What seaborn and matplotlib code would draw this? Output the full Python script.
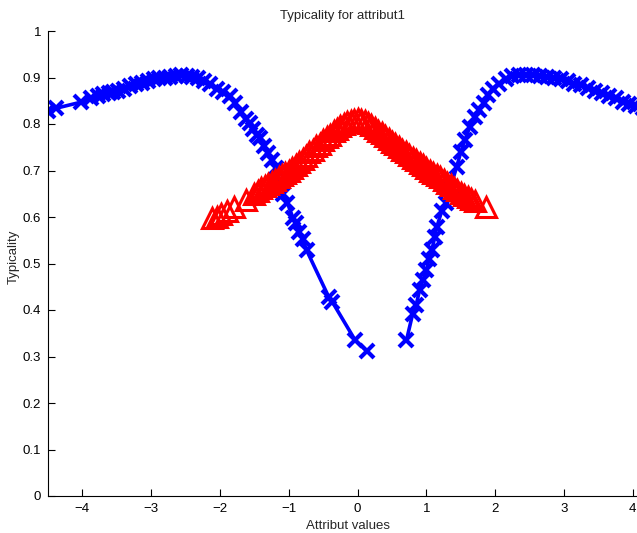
import numpy as np
import pandas as pd
import matplotlib
matplotlib.use("Agg")
import matplotlib.pyplot as plt
import seaborn as sns

# ---- data ----
blue_left_x = [-4.50, -4.38, -4.02, -3.87, -3.78, -3.70, -3.62, -3.55, -3.48, -3.40,
               -3.31, -3.22, -3.14, -3.05, -2.96, -2.88, -2.80, -2.72, -2.64, -2.56,
               -2.48, -2.40, -2.32, -2.24, -2.15, -2.05, -1.95, -1.86, -1.78, -1.70,
               -1.62, -1.57, -1.52, -1.46, -1.42, -1.36, -1.30, -1.24, -1.18, -1.09,
               -1.02, -0.94, -0.90, -0.85, -0.80, -0.74, -0.42, -0.37, -0.04, 0.13]
blue_left_y = [0.829, 0.834, 0.847, 0.855, 0.861, 0.864, 0.866, 0.868, 0.872, 0.876,
               0.882, 0.886, 0.889, 0.892, 0.896, 0.898, 0.900, 0.902, 0.904, 0.905,
               0.904, 0.902, 0.898, 0.893, 0.887, 0.876, 0.868, 0.860, 0.845, 0.826,
               0.810, 0.802, 0.790, 0.776, 0.770, 0.752, 0.738, 0.722, 0.706, 0.650,
               0.630, 0.598, 0.588, 0.568, 0.553, 0.528, 0.428, 0.418, 0.336, 0.312]

blue_right_x = [0.71, 0.80, 0.85, 0.90, 0.95, 1.00, 1.04, 1.08, 1.12, 1.15,
                1.22, 1.28, 1.35, 1.44, 1.50, 1.56, 1.63, 1.70, 1.77, 1.84,
                1.90, 1.96, 2.05, 2.15, 2.25, 2.35, 2.45, 2.55, 2.65, 2.75,
                2.85, 2.95, 3.05, 3.15, 3.25, 3.35, 3.45, 3.55, 3.65, 3.75,
                3.85, 3.95, 4.05, 4.15]
blue_right_y = [0.335, 0.392, 0.410, 0.443, 0.465, 0.486, 0.510, 0.530, 0.556, 0.578,
                0.612, 0.630, 0.665, 0.708, 0.740, 0.766, 0.794, 0.815, 0.830, 0.845,
                0.862, 0.876, 0.887, 0.897, 0.903, 0.905, 0.906, 0.905, 0.903, 0.902,
                0.900, 0.896, 0.892, 0.887, 0.883, 0.878, 0.872, 0.866, 0.860, 0.855,
                0.848, 0.842, 0.838, 0.835]

red_x = [-2.11, -2.05, -1.99, -1.90, -1.80, -1.62, -1.50, -1.45, -1.40, -1.35,
         -1.30, -1.25, -1.20, -1.15, -1.10, -1.05, -1.00, -0.95, -0.90, -0.85,
         -0.80, -0.75, -0.70, -0.65, -0.60, -0.55, -0.50, -0.45, -0.40, -0.35,
         -0.30, -0.25, -0.20, -0.15, -0.10, -0.05, 0.00, 0.05, 0.10, 0.15,
         0.20, 0.25, 0.30, 0.35, 0.40, 0.45, 0.50, 0.55, 0.60, 0.65,
         0.70, 0.75, 0.80, 0.85, 0.90, 0.95, 1.00, 1.05, 1.10, 1.15,
         1.20, 1.25, 1.30, 1.35, 1.40, 1.45, 1.50, 1.55, 1.60, 1.65,
         1.70, 1.87]
red_y = [0.598, 0.601, 0.606, 0.612, 0.622, 0.636, 0.650, 0.656, 0.662, 0.666,
         0.671, 0.676, 0.680, 0.685, 0.690, 0.695, 0.700, 0.706, 0.712, 0.718,
         0.725, 0.732, 0.739, 0.745, 0.752, 0.758, 0.765, 0.771, 0.777, 0.784,
         0.790, 0.795, 0.800, 0.804, 0.807, 0.809, 0.810, 0.809, 0.806, 0.802,
         0.797, 0.792, 0.786, 0.780, 0.774, 0.768, 0.762, 0.756, 0.750, 0.744,
         0.739, 0.733, 0.727, 0.722, 0.716, 0.711, 0.706, 0.700, 0.695, 0.690,
         0.685, 0.679, 0.673, 0.668, 0.662, 0.657, 0.652, 0.647, 0.643, 0.639,
         0.635, 0.622]

x_ticks = [-4, -3, -2, -1, 0, 1, 2, 3, 4]
y_ticks = [0, 0.1, 0.2, 0.3, 0.4, 0.5, 0.6, 0.7, 0.8, 0.9, 1]
y_tick_labels = ["0", "0.1", "0.2", "0.3", "0.4", "0.5", "0.6", "0.7", "0.8", "0.9", "1"]

# ---- style ----
sns.set_style("ticks")
plt.rcParams["font.family"] = ["Liberation Sans", "DejaVu Sans"]
plt.rcParams["font.size"] = 9.5

fig = plt.figure(figsize=(6.37, 5.33), dpi=100)
ax = fig.add_axes([48 / 637, 37 / 533, 1 - 48 / 637, 465 / 533])

blue_left = pd.DataFrame({"x": blue_left_x, "y": blue_left_y})
blue_right = pd.DataFrame({"x": blue_right_x, "y": blue_right_y})
red = pd.DataFrame({"x": red_x, "y": red_y})

for df in (blue_left, blue_right):
    sns.lineplot(data=df, x="x", y="y", ax=ax, sort=False, color="#0000ff",
                 linewidth=2.6, marker="x", markersize=10, markeredgewidth=3.0,
                 markeredgecolor="#0000ff")

sns.lineplot(data=red, x="x", y="y", ax=ax, sort=False, color="#ff0000",
             linewidth=0, marker="^", markersize=14, markeredgewidth=2.2,
             markerfacecolor="none", markeredgecolor="#ff0000")

ax.set_xlim(-4.5, 4.06)
ax.set_ylim(0, 1)
ax.set_xticks(x_ticks)
ax.set_yticks(y_ticks)
ax.set_yticklabels(y_tick_labels)
ax.tick_params(direction="in", length=5, width=0.8, labelsize=9.5, colors="black", pad=5)
ax.spines["top"].set_visible(False)
ax.spines["right"].set_visible(False)
for s in ("left", "bottom"):
    ax.spines[s].set_linewidth(0.8)
    ax.spines[s].set_color("black")

ax.set_title("Typicality for attribut1", fontsize=9.5, pad=9)
ax.set_xlabel("Attribut values", fontsize=9.5)
ax.set_ylabel("Typicality", fontsize=9.5)
ax.xaxis.set_label_coords(0.509, -0.051)
ax.yaxis.set_label_coords(-0.048, 0.514)

fig.savefig("out.png", dpi=100)
